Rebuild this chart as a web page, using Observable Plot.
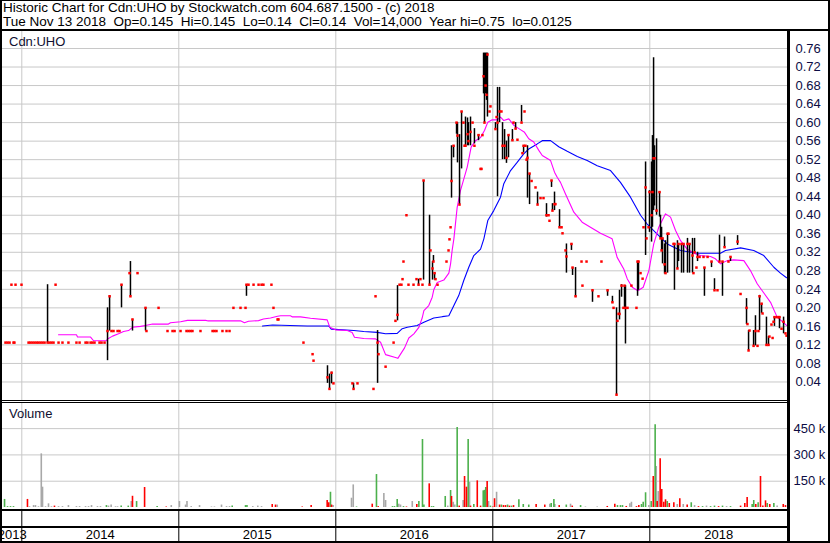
<!DOCTYPE html>
<html><head><meta charset="utf-8">
<script src="https://cdn.jsdelivr.net/npm/d3@7"></script>
<script src="https://cdn.jsdelivr.net/npm/@observablehq/plot@0.6"></script>
<style>
body{margin:0;background:#fff;}
#wrap{position:relative;width:830px;height:543px;overflow:hidden;background:#fff;font-family:"Liberation Sans",Arial,sans-serif;}
.ln{position:absolute;background:#000;}
.txt{position:absolute;font-size:13px;line-height:13px;white-space:pre;}
.hdr{font-size:13.5px;line-height:13px;}
</style></head><body><div id="wrap"></div>
<script>
// ---------- text ----------
const titleLine1 = "Historic Chart for Cdn:UHO by Stockwatch.com 604.687.1500 - (c) 2018";
const titleLine2 = "Tue Nov 13 2018  Op=0.145  Hi=0.145  Lo=0.14  Cl=0.14  Vol=14,000  Year hi=0.75  lo=0.0125";
const priceLabel = "Cdn:UHO";
const volumeLabel = "Volume";

// ---------- axes ----------
const xDomain = [2013.877, 2018.877];           // decimal years
const yearBounds = [2014, 2015, 2016, 2017, 2018];
const yearLabels = ["2013", "2014", "2015", "2016", "2017", "2018"];
const yearStarts = [2013, 2014, 2015, 2016, 2017, 2018];
const priceTicks = [0.04,0.08,0.12,0.16,0.20,0.24,0.28,0.32,0.36,0.40,0.44,0.48,0.52,0.56,0.60,0.64,0.68,0.72,0.76];
const priceMax = 0.7967;
const volumeTicksK = [150, 300, 450];
const volumeMinK = -11.4, volumeMaxK = 599;

// ---------- daily prices (decimal year, close, high, low; null = no range) ----------
const priceDates = [2013.896,2013.909,2013.922,2013.934,2013.947,2013.953,2013.960,2013.998,2014.043,2014.055,
2014.068,2014.081,2014.094,2014.106,2014.119,2014.132,2014.145,2014.164,2014.176,2014.189,
2014.202,2014.215,2014.234,2014.259,2014.297,2014.348,2014.368,2014.406,2014.418,2014.438,
2014.450,2014.463,2014.495,2014.508,2014.527,2014.546,2014.559,2014.571,2014.584,2014.610,
2014.622,2014.635,2014.686,2014.692,2014.705,2014.737,2014.788,2014.794,2014.871,2014.928,
2014.960,2014.973,2015.011,2015.049,2015.062,2015.075,2015.087,2015.138,2015.215,2015.227,
2015.240,2015.278,2015.304,2015.323,2015.348,2015.393,2015.425,2015.431,2015.444,2015.476,
2015.508,2015.527,2015.539,2015.590,2015.603,2015.629,2015.635,2015.794,2015.852,2015.858,
2015.947,2015.960,2015.973,2015.985,2016.106,2016.113,2016.138,2016.240,2016.253,2016.266,
2016.272,2016.317,2016.368,2016.380,2016.393,2016.406,2016.418,2016.425,2016.431,2016.450,
2016.463,2016.495,2016.514,2016.527,2016.539,2016.552,2016.559,2016.597,2016.603,2016.616,
2016.622,2016.629,2016.635,2016.648,2016.705,2016.718,2016.724,2016.731,2016.737,2016.750,
2016.769,2016.775,2016.788,2016.801,2016.813,2016.820,2016.826,2016.839,2016.845,2016.858,
2016.871,2016.883,2016.909,2016.922,2016.928,2016.934,2016.941,2016.947,2016.954,2016.960,
2016.966,2016.979,2016.985,2017.017,2017.024,2017.030,2017.043,2017.055,2017.062,2017.075,
2017.087,2017.100,2017.125,2017.132,2017.145,2017.157,2017.183,2017.189,2017.196,2017.202,
2017.208,2017.215,2017.221,2017.234,2017.247,2017.272,2017.285,2017.304,2017.323,2017.342,
2017.355,2017.361,2017.374,2017.380,2017.393,2017.399,2017.425,2017.438,2017.444,2017.463,
2017.469,2017.501,2017.508,2017.527,2017.565,2017.571,2017.597,2017.635,2017.673,2017.692,
2017.731,2017.762,2017.769,2017.788,2017.794,2017.801,2017.807,2017.820,2017.832,2017.839,
2017.845,2017.858,2017.883,2017.915,2017.922,2017.928,2017.941,2017.954,2017.960,2017.973,
2017.979,2017.992,2017.998,2018.011,2018.017,2018.024,2018.030,2018.043,2018.062,2018.068,
2018.075,2018.081,2018.094,2018.100,2018.113,2018.119,2018.151,2018.157,2018.176,2018.183,
2018.202,2018.215,2018.240,2018.253,2018.272,2018.278,2018.285,2018.297,2018.304,2018.317,
2018.342,2018.348,2018.368,2018.393,2018.412,2018.431,2018.444,2018.463,2018.476,2018.501,
2018.514,2018.559,2018.578,2018.616,2018.622,2018.629,2018.635,2018.661,2018.673,2018.686,
2018.692,2018.699,2018.712,2018.718,2018.743,2018.756,2018.762,2018.775,2018.782,2018.788,
2018.794,2018.807,2018.820,2018.826,2018.839,2018.852,2018.864,2018.871];
const priceClose = [.125,.125,.125,.25,.125,.125,.25,.25,.125,.125,
.125,.125,.125,.125,.125,.125,.125,.125,.125,.125,
.125,.25,.125,.125,.125,.125,.125,.125,.125,.125,
.125,.125,.125,.125,.125,.15,.225,.15,.15,.15,
.15,.25,.275,.225,.175,.275,.20,.15,.20,.15,
.15,.15,.15,.15,.15,.15,.15,.15,.15,.15,
.15,.15,.15,.15,.20,.20,.20,.25,.25,.25,
.25,.25,.25,.25,.20,.175,.175,.125,.10,.086,
.05,.025,.06,.037,.037,.025,.037,.025,.225,.125,
.10,.073,.125,.172,.185,.25,.25,.262,.30,.40,
.25,.25,.262,.25,.262,.25,.475,.25,.324,.285,
.30,.275,.262,.25,.30,.324,.348,.374,.474,.55,
.60,.572,.423,.624,.60,.55,.55,.575,.56,.58,
.60,.55,.573,.50,.50,.573,.70,.60,.68,.66,
.747,.624,.635,.586,.612,.60,.624,.624,.55,.55,
.524,.573,.562,.60,.587,.563,.60,.534,.55,.624,
.55,.52,.524,.49,.474,.46,.423,.437,.437,.40,
.40,.388,.475,.41,.424,.424,.374,.374,.361,.324,
.311,.338,.287,.225,.30,.248,.30,.238,.225,.30,
.238,.212,.20,.0125,.172,.187,.187,.248,.20,.248,
.20,.20,.248,.20,.30,.30,.275,.263,.374,.46,
.35,.374,.45,.40,.45,.523,.523,.41,.45,.35,
.324,.35,.294,.275,.36,.36,.338,.338,.285,.338,
.338,.338,.338,.338,.313,.275,.32,.287,.31,.31,
.31,.287,.31,.30,.238,.238,.30,.30,.331,.30,
.31,.343,.23,.20,.165,.108,.151,.118,.15,.118,
.15,.225,.209,.188,.12,.12,.138,.164,.135,.17,
.18,.18,.18,.18,.155,.17,.145,.14];
const N = null;
const priceHigh = [N,N,N,N,N,N,N,N,N,N,
N,N,N,N,N,N,N,.25,N,N,
N,N,N,N,N,N,N,N,N,N,
N,N,N,N,N,.20,.226,N,N,N,
N,.25,N,.30,.175,N,.20,N,N,N,
N,N,N,N,N,N,N,N,N,N,
N,N,N,N,N,N,N,.25,N,N,
N,N,N,N,N,N,N,N,N,N,
.075,.057,.061,N,N,.037,N,N,N,.151,
N,N,N,N,.248,N,N,N,N,N,
N,N,N,.262,N,N,.475,.40,N,.30,
.313,.275,N,N,N,N,N,N,.55,.55,
.60,.60,.574,.624,N,N,.612,.61,.60,.612,
N,.587,.574,N,N,N,.75,.75,.75,.75,
.75,N,N,.60,N,.676,.676,N,.60,.585,
.56,.573,.585,N,.60,N,.637,N,.55,N,
N,N,.55,.49,N,N,.45,N,N,.425,
N,N,.475,.425,.45,N,.412,N,N,N,
.338,.338,.287,.287,N,N,N,.238,N,N,
.238,.225,N,.20,N,N,.238,.25,N,.248,
.248,N,N,N,.30,.30,N,N,N,.515,
N,N,.453,.515,.572,.74,.55,.565,.45,.40,
.374,.35,.338,.345,.36,N,N,.338,.345,.338,
.338,.338,.35,.338,.35,N,.35,N,.32,N,
N,.287,N,.30,.263,N,.357,.30,.353,N,
.31,.356,N,.22,N,.151,N,.151,.183,N,
N,.227,.209,N,.18,.138,N,N,N,N,
.18,N,N,.18,N,.18,N,N];
const priceLow = [N,N,N,N,N,N,N,N,N,N,
N,N,N,N,N,N,N,.125,N,N,
N,N,N,N,N,N,N,N,N,N,
N,N,N,N,N,.086,.15,N,N,N,
N,.20,N,.225,.15,N,.15,N,N,N,
N,N,N,N,N,N,N,N,N,N,
N,N,N,N,N,N,N,.225,N,N,
N,N,N,N,N,N,N,N,N,N,
.037,.025,.036,N,N,.025,N,N,N,.037,
N,N,N,N,.172,N,N,N,N,N,
N,N,N,.25,N,N,.26,.25,N,.26,
.30,.26,N,N,N,N,N,N,.437,.524,
.575,.513,.423,.50,N,N,.547,.55,.55,.55,
N,.554,.561,N,N,N,.662,.60,.662,.648,
.612,N,N,.585,N,.44,.60,N,.52,.52,
.512,.524,.56,N,.585,N,.601,N,.535,N,
N,N,.437,.423,N,N,.423,N,N,.396,
N,N,.46,.41,.41,N,.373,N,N,N,
.275,.324,.27,.223,N,N,N,.212,N,N,
.225,.21,N,.0125,N,N,.174,.223,N,.20,
.122,N,N,N,.225,.238,N,N,N,.313,
N,N,.363,.342,.374,.41,.42,.40,.396,.35,
.324,.295,.273,.275,.275,N,N,.238,.285,.30,
.275,.275,.275,.275,.275,N,.32,N,.30,N,
N,.225,N,.287,.238,N,.30,.225,.331,N,
.30,.335,N,.164,N,.108,N,.118,.118,N,
N,.151,.188,N,.121,.12,N,N,N,N,
.16,N,N,.155,N,.144,N,N];

// ---------- moving averages ----------
const maShortDates = [2014.234,2014.348,2014.355,2014.438,2014.457,2014.539,2014.546,2014.578,2014.616,2014.648,2014.680,2014.705,2014.756,2014.788,2014.832,2014.934,2014.947,2015.011,2015.055,2015.170,2015.183,2015.393,2015.418,2015.444,2015.508,2015.539,2015.584,2015.629,2015.648,2015.711,2015.724,2015.775,2015.839,2015.945,2015.962,2015.998,2016.073,2016.104,2016.119,2016.178,2016.253,2016.285,2016.317,2016.380,2016.395,2016.438,2016.465,2016.497,2016.529,2016.550,2016.561,2016.592,2016.614,2016.624,2016.646,2016.688,2016.720,2016.731,2016.741,2016.752,2016.773,2016.794,2016.837,2016.862,2016.890,2016.922,2016.947,2016.968,2016.996,2017.028,2017.049,2017.070,2017.102,2017.134,2017.166,2017.202,2017.229,2017.261,2017.293,2017.315,2017.368,2017.393,2017.410,2017.431,2017.463,2017.516,2017.569,2017.622,2017.686,2017.760,2017.792,2017.834,2017.856,2017.888,2017.924,2017.958,2017.994,2018.025,2018.057,2018.100,2018.132,2018.164,2018.196,2018.238,2018.280,2018.323,2018.387,2018.418,2018.450,2018.493,2018.535,2018.599,2018.641,2018.684,2018.716,2018.769,2018.811,2018.843,2018.871];
const maShortValues = [.142,.142,.137,.137,.129,.129,.133,.139,.144,.149,.151,.158,.160,.162,.165,.165,.168,.170,.173,.173,.172,.172,.168,.171,.1725,.176,.178,.182,.183,.183,.1805,.1805,.1775,.174,.158,.1525,.151,.147,.1365,.134,.133,.1257,.099,.093,.091,.1136,.135,.144,.158,.178,.194,.205,.223,.239,.255,.260,.275,.295,.324,.349,.417,.453,.504,.547,.561,.568,.583,.601,.606,.606,.612,.6045,.608,.594,.587,.579,.565,.558,.540,.529,.518,.493,.482,.471,.446,.4065,.385,.374,.361,.349,.309,.284,.263,.2445,.237,.2445,.2805,.338,.374,.403,.396,.367,.345,.327,.318,.313,.311,.306,.295,.302,.3036,.302,.2805,.252,.237,.212,.180,.171,.162];
const maLongDates = [2015.533,2015.597,2015.818,2015.955,2015.971,2016.115,2016.178,2016.264,2016.317,2016.391,2016.423,2016.455,2016.518,2016.561,2016.624,2016.678,2016.720,2016.752,2016.783,2016.815,2016.847,2016.879,2016.922,2016.943,2016.968,2017.006,2017.049,2017.070,2017.113,2017.155,2017.197,2017.229,2017.283,2017.315,2017.368,2017.420,2017.474,2017.538,2017.601,2017.665,2017.750,2017.813,2017.877,2017.941,2017.983,2018.036,2018.111,2018.196,2018.302,2018.450,2018.482,2018.578,2018.662,2018.726,2018.790,2018.832,2018.871];
const maLongValues = [.161,.163,.161,.161,.154,.151,.149,.147,.144,.145,.155,.158,.162,.169,.178,.181,.183,.205,.2265,.259,.2877,.313,.327,.349,.3885,.410,.439,.468,.4965,.514,.5326,.543,.554,.561,.561,.548,.538,.527,.518,.507,.4965,.471,.439,.400,.381,.363,.338,.324,.318,.318,.324,.3295,.324,.313,.2877,.275,.265];

// ---------- volume (thousands; u = up, d = down, f = unchanged) ----------
const volDates = [2013.890,2013.909,2013.928,2013.947,2014.036,2014.049,2014.075,2014.087,2014.106,2014.124,
2014.132,2014.151,2014.170,2014.189,2014.208,2014.234,2014.259,2014.297,2014.348,2014.368,
2014.406,2014.425,2014.444,2014.482,2014.501,2014.539,2014.552,2014.569,2014.597,2014.610,
2014.633,2014.678,2014.697,2014.705,2014.731,2014.782,2014.862,2014.920,2014.952,2015.004,
2015.043,2015.052,2015.079,2015.132,2015.208,2015.227,2015.272,2015.304,2015.323,2015.340,
2015.425,2015.434,2015.471,2015.503,2015.527,2015.595,2015.616,2015.627,2015.786,2015.843,
2015.945,2015.955,2015.966,2015.973,2015.983,2016.100,2016.111,2016.132,2016.232,2016.259,
2016.270,2016.306,2016.317,2016.361,2016.374,2016.391,2016.401,2016.412,2016.431,2016.450,
2016.487,2016.516,2016.529,2016.552,2016.561,2016.595,2016.610,2016.622,2016.697,2016.713,
2016.731,2016.737,2016.748,2016.758,2016.773,2016.786,2016.811,2016.820,2016.832,2016.843,
2016.852,2016.858,2016.879,2016.901,2016.922,2016.939,2016.947,2016.955,2016.964,2016.973,
2016.985,2017.000,2017.011,2017.024,2017.043,2017.055,2017.068,2017.081,2017.094,2017.106,
2017.119,2017.132,2017.166,2017.194,2017.229,2017.276,2017.331,2017.363,2017.372,2017.389,
2017.395,2017.423,2017.468,2017.495,2017.506,2017.559,2017.590,2017.665,2017.729,2017.777,
2017.794,2017.813,2017.826,2017.850,2017.873,2017.883,2017.915,2017.930,2017.947,2017.958,
2017.973,2017.994,2018.009,2018.022,2018.034,2018.041,2018.047,2018.054,2018.066,2018.076,
2018.089,2018.100,2018.111,2018.124,2018.153,2018.175,2018.191,2018.213,2018.238,2018.264,
2018.285,2018.310,2018.336,2018.361,2018.387,2018.412,2018.438,2018.463,2018.489,2018.514,
2018.578,2018.605,2018.620,2018.652,2018.662,2018.675,2018.690,2018.705,2018.720,2018.737,
2018.748,2018.764,2018.790,2018.811,2018.850,2018.864];
const volK = [46,5,5,5,46,4,11,11,4,306,
116,4,21,4,8,5,5,11,5,5,
5,5,11,5,5,11,8,14,4,4,
8,8,34,64,34,114,6,3,11,34,
14,34,5,11,3,3,14,5,5,8,
11,11,5,8,5,17,14,14,3,11,
40,27,87,14,11,53,129,3,19,188,
5,80,40,5,5,46,19,14,5,3,
34,17,34,388,14,135,5,5,63,8,
97,63,30,14,456,8,40,177,116,388,
144,8,17,152,8,95,98,114,148,34,
8,3,50,87,14,14,11,11,14,8,
8,11,44,17,14,17,14,19,23,46,
17,11,14,19,8,11,3,3,6,19,
11,11,11,6,21,30,5,11,17,30,
84,11,34,177,472,234,34,91,278,103,
30,44,34,23,27,17,50,17,14,27,
11,5,5,8,5,8,5,8,5,5,
8,23,57,17,40,17,27,177,8,38,
23,17,23,8,17,11];
const volDir = ["u","u","u","u","d","f","f","f","f","f",
"f","f","f","f","d","f","f","f","f","f",
"f","f","f","f","f","u","f","f","f","f",
"u","u","f","d","u","d","u","d","f","f",
"f","f","f","f","f","f","f","f","f","u",
"u","u","f","f","f","d","d","f","d","d",
"d","d","u","d","f","f","f","u","d","u",
"d","f","f","u","u","u","f","f","u","d",
"f","d","u","u","u","d","u","u","u","f",
"u","d","f","f","u","d","f","d","d","u",
"f","d","u","d","d","u","u","u","d","f",
"u","d","d","f","d","u","d","d","u","d",
"u","d","u","u","u","d","d","f","u","u",
"f","d","u","f","d","u","f","f","d","d",
"u","u","u","d","f","f","d","d","u","u",
"u","f","u","d","u","f","d","f","d","d",
"d","d","u","d","d","f","d","f","d","u",
"f","d","u","f","u","u","d","u","f","u",
"d","d","d","u","u","d","u","d","d","d",
"u","d","u","f","d","d"];

// ---------- build rows ----------
const prices = priceDates.map((t, i) => ({t, close: priceClose[i], hi: priceHigh[i], lo: priceLow[i]}));
const ranges = prices.filter(d => d.hi != null && d.lo != null);
const maShort = maShortDates.map((t, i) => ({t, v: maShortValues[i]}));
const maLong = maLongDates.map((t, i) => ({t, v: maLongValues[i]}));
const vols = volDates.map((t, i) => ({t, v: volK[i], dir: volDir[i]}));
const yearRows = yearLabels.map((label, i) => ({
  label,
  mid: (Math.max(yearStarts[i], xDomain[0]) + Math.min(yearStarts[i] + 1, xDomain[1])) / 2
}));

const FONT = '"Liberation Sans", Arial, sans-serif';
const AXIS_COLOR = "#0c0c44";
const GRID = "#c8c8c8";
const common = {
  width: 830, marginLeft: 2, marginRight: 43, marginTop: 0, marginBottom: 0,
  x: {domain: xDomain, axis: null},
  style: {fontFamily: FONT, fontSize: "13px", background: "transparent", overflow: "hidden"}
};

const wrap = document.getElementById("wrap");
function place(el, top) {
  el.style.position = "absolute"; el.style.left = "0px"; el.style.top = top + "px";
  wrap.appendChild(el);
}

// price panel
const pricePlot = Plot.plot({
  ...common, height: 369,
  y: {domain: [0, priceMax]},
  marks: [
    Plot.ruleY(priceTicks, {stroke: GRID}),
    Plot.ruleX(yearBounds, {stroke: GRID}),
    Plot.line(maLong, {x: "t", y: "v", stroke: "#0000ff", strokeWidth: 1.1}),
    Plot.line(maShort, {x: "t", y: "v", stroke: "#ff00ff", strokeWidth: 1.1}),
    Plot.ruleX(ranges, {x: "t", y1: "lo", y2: "hi", stroke: "#000", strokeWidth: 1.5}),
    Plot.dot(prices, {x: "t", y: "close", symbol: "square", r: 1.4, fill: "#ff0000"}),
    Plot.axisY(priceTicks, {anchor: "right", tickSize: 0, tickPadding: 8, tickFormat: d3.format(".2f"),
      color: AXIS_COLOR, fontSize: 13, label: null})
  ]
});
place(pricePlot, 31);

// volume panel
const volPlot = Plot.plot({
  ...common, height: 107,
  y: {domain: [volumeMinK, volumeMaxK]},
  marks: [
    Plot.ruleY(volumeTicksK, {stroke: GRID}),
    Plot.ruleX(yearBounds, {stroke: GRID}),
    Plot.ruleX(vols.filter(d => d.dir === "f"), {x: "t", y1: 0, y2: "v", stroke: "#a8a8a8", strokeWidth: 1.6}),
    Plot.ruleX(vols.filter(d => d.dir === "u"), {x: "t", y1: 0, y2: "v", stroke: "#4cb04c", strokeWidth: 1.6}),
    Plot.ruleX(vols.filter(d => d.dir === "d"), {x: "t", y1: 0, y2: "v", stroke: "#ff0000", strokeWidth: 1.6}),
    Plot.axisY(volumeTicksK, {anchor: "right", tickSize: 0, tickPadding: 6, tickFormat: d => d + " k",
      color: AXIS_COLOR, fontSize: 13, label: null})
  ]
});
place(volPlot, 402);

// year band
const yearPlot = Plot.plot({
  ...common, height: 33,
  y: {domain: [0, 1], axis: null},
  marks: [
    Plot.ruleX(yearBounds, {stroke: "#000"}),
    Plot.text(yearRows, {x: "mid", text: "label", frameAnchor: "top", lineAnchor: "middle", dy: 25.5,
      fontSize: 13, fill: "#000"})
  ]
});
place(yearPlot, 509);

// text
function addText(s, left, top, color, cls) {
  const d = document.createElement("div");
  d.className = "txt" + (cls ? " " + cls : ""); d.textContent = s;
  d.style.left = left + "px"; d.style.top = top + "px"; d.style.color = color;
  wrap.appendChild(d);
}
addText(titleLine1, 3, 1, "#000", "hdr");
addText(titleLine2, 3, 15, "#000", "hdr");
addText(priceLabel, 9, 35, "#101030");
addText(volumeLabel, 9, 407, "#101030");

// chrome lines
function line(l, t, w, h) {
  const d = document.createElement("div");
  d.className = "ln";
  Object.assign(d.style, {left: l + "px", top: t + "px", width: w + "px", height: h + "px"});
  wrap.appendChild(d);
}
line(0, 0, 830, 1);
line(0, 0, 2, 543);
line(828, 0, 2, 543);
line(0, 541, 830, 2);
line(0, 29, 830, 2);
line(787, 31, 3, 512);
line(0, 400, 787, 1);
line(0, 402, 787, 1);
line(0, 509, 787, 2);
line(0, 526, 787, 2);
</script>
</body></html>
